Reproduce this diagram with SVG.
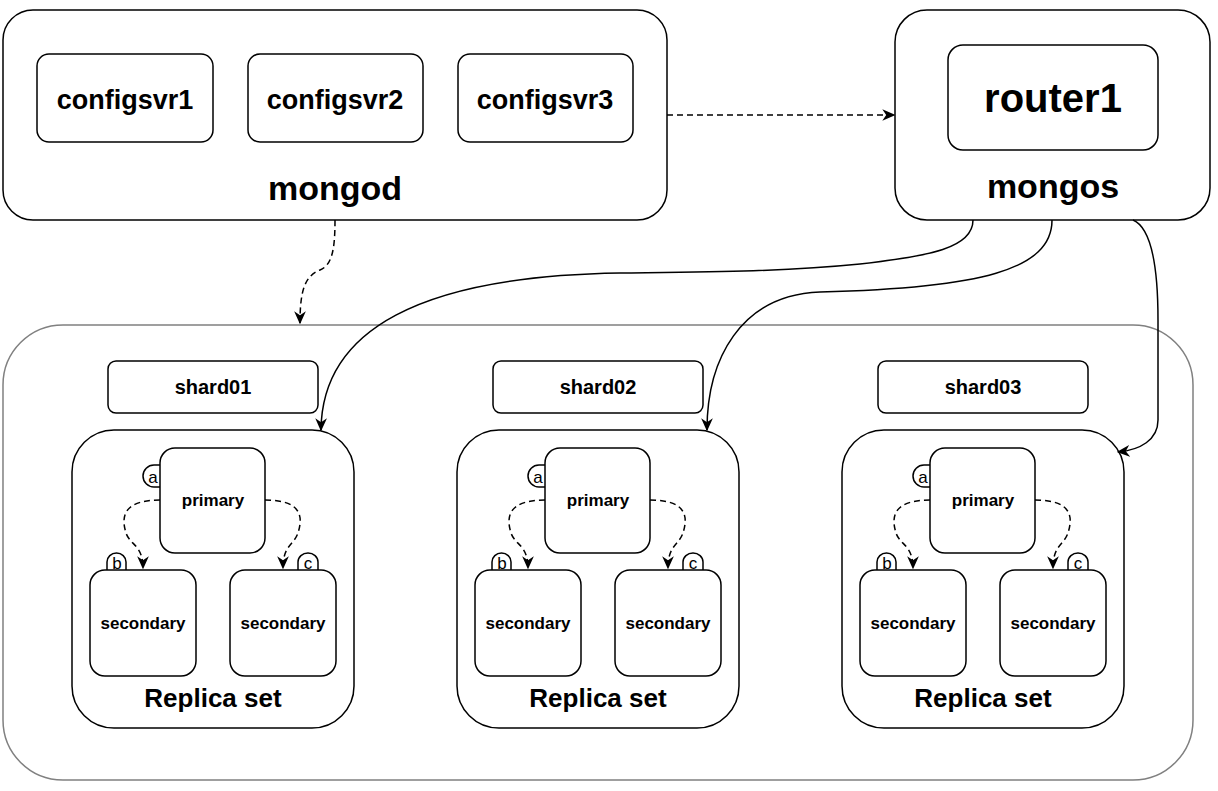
<svg xmlns="http://www.w3.org/2000/svg" width="1218" height="791" viewBox="0 0 1218 791">
<style>
  .box{fill:#fff;stroke:#000;stroke-width:1.5}
  .outer{fill:#fff;stroke:#808080;stroke-width:1.5}
  .t{font-family:"Liberation Sans",Arial,sans-serif;font-weight:bold;fill:#000;text-anchor:middle}
  .tab{font-family:"Liberation Sans",Arial,sans-serif;font-size:17px;fill:#000;text-anchor:middle}
  .edge{fill:none;stroke:#000;stroke-width:1.5}
  .dash{stroke-dasharray:6 4}
</style>
<defs>
  <marker id="arr" viewBox="0 0 10 10" markerUnits="userSpaceOnUse" markerWidth="13" markerHeight="13" refX="9" refY="5" orient="auto">
    <path d="M0,0.5 L10,5 L0,9.5 L3,5 z" fill="#000" stroke="none"/>
  </marker>
  <g id="rs">
    <rect class="box" x="72" y="430" width="282" height="298" rx="42"/>
    <path class="box" d="M161,465 L154,465 A11,11 0 0 0 154,487 L161,487"/>
    <path class="box" d="M107,571 L107,562 A9.5,9 0 0 1 126,562 L126,571"/>
    <path class="box" d="M298,571 L298,562 A10,9 0 0 1 318,562 L318,571"/>
    <rect class="box" x="160" y="448" width="105" height="105" rx="15"/>
    <rect class="box" x="90" y="570" width="106" height="106" rx="15"/>
    <rect class="box" x="230" y="570" width="106" height="106" rx="15"/>
    <text class="tab" x="153" y="483">a</text>
    <text class="tab" x="117" y="569">b</text>
    <text class="tab" x="308" y="569">c</text>
    <text class="t" x="213" y="506" font-size="17">primary</text>
    <text class="t" x="143" y="629" font-size="17">secondary</text>
    <text class="t" x="283" y="629" font-size="17">secondary</text>
    <text class="t" x="213" y="707" font-size="26">Replica set</text>
    <path class="edge dash" d="M160 500 C120 500, 122 520, 126 533 C130 545, 143 545, 143 568" marker-end="url(#arr)"/>
    <path class="edge dash" d="M265 500 C305 500, 302 520, 298 533 C294 545, 283 545, 283 568" marker-end="url(#arr)"/>
  </g>
</defs>

<g id="mongod">
  <rect class="box" x="3" y="10" width="664" height="210" rx="30"/>
  <text class="t" x="335" y="200" font-size="34">mongod</text>
</g>
<g id="configsvr1">
  <rect class="box" x="37" y="54" width="176" height="88" rx="12"/>
  <text class="t" x="125" y="109" font-size="27">configsvr1</text>
</g>
<g id="configsvr2">
  <rect class="box" x="248" y="54" width="175" height="88" rx="12"/>
  <text class="t" x="335" y="109" font-size="27">configsvr2</text>
</g>
<g id="configsvr3">
  <rect class="box" x="458" y="54" width="175" height="88" rx="12"/>
  <text class="t" x="545" y="109" font-size="27">configsvr3</text>
</g>

<g id="mongos">
  <rect class="box" x="895" y="10" width="315" height="210" rx="32"/>
  <text class="t" x="1053" y="198" font-size="34">mongos</text>
</g>
<g id="router1">
  <rect class="box" x="948" y="45" width="210" height="105" rx="15"/>
  <text class="t" x="1053" y="112" font-size="40">router1</text>
</g>

<g id="shards">
  <rect class="outer" x="3" y="325" width="1190" height="455" rx="60"/>
</g>

<g id="shard01">
  <rect class="box" x="108" y="361" width="210" height="52" rx="8"/>
  <text class="t" x="213" y="394" font-size="20">shard01</text>
</g>
<g id="shard02">
  <rect class="box" x="493" y="361" width="210" height="52" rx="8"/>
  <text class="t" x="598" y="394" font-size="20">shard02</text>
</g>
<g id="shard03">
  <rect class="box" x="878" y="361" width="210" height="52" rx="8"/>
  <text class="t" x="983" y="394" font-size="20">shard03</text>
</g>

<g id="replicaset1"><use href="#rs"/></g>
<g id="replicaset2"><use href="#rs" transform="translate(385,0)"/></g>
<g id="replicaset3"><use href="#rs" transform="translate(770,0)"/></g>

<g id="connectors">
  <path class="edge dash" d="M667 115 L894 115" marker-end="url(#arr)"/>
  <path class="edge dash" d="M335 220 C335 250, 332 265, 320 270 C305 276, 300 290, 300 323" marker-end="url(#arr)"/>
  <path class="edge" d="M973 220 C973 248, 930 256, 860 264 C780 272, 700 272, 620 273 C420 276, 322 330, 321 430" marker-end="url(#arr)"/>
  <path class="edge" d="M1052 220 C1052 270, 980 288, 820 292 C740 295, 707 360, 707 430" marker-end="url(#arr)"/>
  <path class="edge" d="M1133 220 C1152 228, 1158 270, 1158 320 L1158 420 C1158 440, 1140 450, 1118 452" marker-end="url(#arr)"/>
</g>
</svg>
